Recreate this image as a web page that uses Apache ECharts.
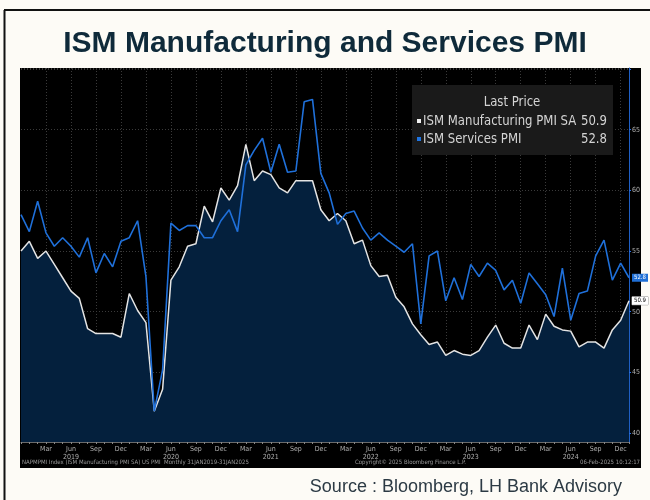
<!DOCTYPE html>
<html><head><meta charset="utf-8">
<script src="https://cdn.jsdelivr.net/npm/echarts/dist/echarts.min.js"></script>
<style>html,body{margin:0;padding:0;background:#fdfbf6}#c{width:650px;height:500px}</style>
</head><body><div id="c"></div><script>
// Monthly categories Dec 2018 .. Jan 2025
const categories = [
 '2018-12',
 '2019-01','2019-02','2019-03','2019-04','2019-05','2019-06','2019-07','2019-08','2019-09','2019-10','2019-11','2019-12',
 '2020-01','2020-02','2020-03','2020-04','2020-05','2020-06','2020-07','2020-08','2020-09','2020-10','2020-11','2020-12',
 '2021-01','2021-02','2021-03','2021-04','2021-05','2021-06','2021-07','2021-08','2021-09','2021-10','2021-11','2021-12',
 '2022-01','2022-02','2022-03','2022-04','2022-05','2022-06','2022-07','2022-08','2022-09','2022-10','2022-11','2022-12',
 '2023-01','2023-02','2023-03','2023-04','2023-05','2023-06','2023-07','2023-08','2023-09','2023-10','2023-11','2023-12',
 '2024-01','2024-02','2024-03','2024-04','2024-05','2024-06','2024-07','2024-08','2024-09','2024-10','2024-11','2024-12',
 '2025-01'
];
const manufacturing = [
 55.0,
 55.8,54.4,55.0,53.9,52.8,51.7,51.1,48.6,48.2,48.2,48.2,47.9,
 51.5,50.1,49.1,41.8,43.6,52.6,53.7,55.4,55.6,58.7,57.4,60.2,
 59.2,60.4,63.8,60.8,61.6,61.3,60.2,59.8,60.8,60.8,60.8,58.4,
 57.5,58.1,57.5,55.6,55.9,53.8,52.9,53.0,51.2,50.4,49.0,48.1,
 47.3,47.5,46.4,46.8,46.5,46.4,46.8,47.9,48.9,47.4,47.0,47.0,
 48.9,47.7,49.8,48.8,48.5,48.4,47.1,47.5,47.5,47.0,48.5,49.3,
 50.9
];
const services = [
 58.0,
 56.6,59.1,56.5,55.4,56.1,55.4,54.5,56.1,53.2,54.8,53.7,55.8,
 56.1,57.5,52.9,41.8,45.2,57.3,56.7,57.1,57.1,56.1,56.1,57.5,
 58.4,56.6,62.1,63.3,64.3,61.5,63.8,61.5,61.6,67.3,67.5,61.4,
 59.8,57.2,58.1,58.3,56.9,55.9,56.5,55.9,55.4,54.9,55.6,49.0,
 54.6,55.0,50.9,52.8,51.0,53.9,52.9,54.0,53.4,51.8,52.6,50.7,
 53.2,52.3,51.4,49.6,53.6,49.3,51.5,51.7,54.6,55.9,52.6,54.0,
 52.8
];
const monthNames = ['Jan','Feb','Mar','Apr','May','Jun','Jul','Aug','Sep','Oct','Nov','Dec'];
const tickMonths = ['Mar','Jun','Sep','Dec'];
const yearLabelMonth = 'Jun';
const yLabelMax = 65;
const seriesNames = ['ISM Manufacturing PMI SA','ISM Services PMI'];
const legendTitle = 'Last Price';
const titleText = 'ISM Manufacturing and Services PMI';
const sourceText = 'Source : Bloomberg, LH Bank Advisory';
const footLeft = 'NAPMPMI Index (ISM Manufacturing PMI SA) US PMI  Monthly 31JAN2019-31JAN2025';
const footMid = 'Copyright\u00a9 2025 Bloomberg Finance L.P.';
const footRight = '06-Feb-2025 10:12:17';

function monthOf(v){ return monthNames[parseInt(v.split('-')[1],10)-1]; }
function isTick(idx){ return idx>0 && tickMonths.indexOf(monthOf(categories[idx]))>=0; }

const narrow = "'Liberation Sans Narrow','DejaVu Sans Condensed','Arial Narrow','Liberation Sans',sans-serif";
const chart = echarts.init(document.getElementById('c'), null, {renderer:'canvas'});
const lastM = manufacturing[manufacturing.length-1].toFixed(1);
const lastS = services[services.length-1].toFixed(1);
const lf = '14px '+narrow, lc = '#d4d4d4', sx = 0.93;

chart.setOption({
  animation:false,
  backgroundColor:'transparent',
  title:{text:titleText,left:'center',top:24,
    textStyle:{fontFamily:"'Liberation Sans',Arial,sans-serif",fontSize:30,fontWeight:'bold',color:'#0f2a3a'}},
  grid:{left:21,right:21,top:68,bottom:58},
  graphic:[
    {type:'line',z:-5,shape:{x1:4.5,y1:10,x2:4.5,y2:500},style:{stroke:'#111',lineWidth:2}},
    {type:'line',z:-5,shape:{x1:4,y1:10,x2:650,y2:10},style:{stroke:'#111',lineWidth:2}},
    {type:'rect',z:-10,shape:{x:20,y:68,width:621,height:400},style:{fill:'#000'}},
    {type:'rect',z:50,shape:{x:412,y:85,width:201,height:70},style:{fill:'#1a1a1a'}},
    {type:'text',z:51,x:512,y:102,scaleX:sx,style:{text:legendTitle,align:'center',verticalAlign:'middle',fill:lc,font:lf}},
    {type:'rect',z:51,shape:{x:417,y:119,width:4,height:4},style:{fill:'#f0f0f0'}},
    {type:'text',z:51,x:423,y:121,scaleX:sx,style:{text:seriesNames[0],verticalAlign:'middle',fill:lc,font:lf}},
    {type:'text',z:51,x:607,y:121,scaleX:sx,style:{text:lastM,align:'right',verticalAlign:'middle',fill:lc,font:lf}},
    {type:'rect',z:51,shape:{x:417,y:137,width:4,height:4},style:{fill:'#1f74e0'}},
    {type:'text',z:51,x:423,y:139,scaleX:sx,style:{text:seriesNames[1],verticalAlign:'middle',fill:lc,font:lf}},
    {type:'text',z:51,x:607,y:139,scaleX:sx,style:{text:lastS,align:'right',verticalAlign:'middle',fill:lc,font:lf}},
    {type:'text',z:51,style:{x:22,y:462,text:footLeft,verticalAlign:'middle',fill:'#9a9a9a',font:'6px '+narrow}},
    {type:'text',z:51,style:{x:355,y:462,text:footMid,verticalAlign:'middle',fill:'#9a9a9a',font:'6px '+narrow}},
    {type:'text',z:51,style:{x:640,y:462,text:footRight,align:'right',verticalAlign:'middle',fill:'#9a9a9a',font:'6px '+narrow}},
    {type:'text',z:51,style:{x:622,y:487,text:sourceText,align:'right',verticalAlign:'middle',fill:'#2c3a44',font:"18px 'Liberation Sans',Arial,sans-serif"}}
  ],
  xAxis:{type:'category',data:categories,boundaryGap:false,
    axisLine:{show:true,lineStyle:{color:'#6a6a6a',width:1}},
    axisTick:{show:true,interval:0,length:2,lineStyle:{color:'#888'}},
    axisLabel:{interval:function(i){return isTick(i);},color:'#b0b0b0',fontSize:7,margin:3,lineHeight:8,
      fontFamily:narrow,
      formatter:function(v){const m=monthOf(v);return m===yearLabelMonth? m+'\n'+v.split('-')[0] : m;}},
    splitLine:{show:true,interval:function(i){return isTick(i);},lineStyle:{color:'#3a3a3a',type:[1,2],width:1}}
  },
  yAxis:{type:'value',position:'right',min:39.26,max:70.09,splitNumber:6,
    axisLine:{show:true,lineStyle:{color:'#1f5fc4',width:1}},
    axisTick:{show:true,length:2,lineStyle:{color:'#2a6fe0'}},
    axisLabel:{color:'#b0b0b0',fontSize:7,margin:3,showMinLabel:false,showMaxLabel:false,fontFamily:narrow,
      formatter:function(v){return v>yLabelMax? '' : String(v);}},
    splitLine:{show:true,lineStyle:{color:'#3a3a3a',type:[1,2],width:1}}
  },
  series:[
    {name:seriesNames[0],type:'line',data:manufacturing,symbol:'none',clip:true,z:3,
     lineStyle:{color:'#e4e4e4',width:1.5},itemStyle:{color:'#e4e4e4'},
     areaStyle:{color:'#04203d',opacity:1,origin:'start'},
     endLabel:{show:true,formatter:function(p){return p.value.toFixed(1);},backgroundColor:'#ffffff',color:'#000',
       fontSize:6,padding:[1,2],distance:3,borderColor:'#999',borderWidth:0.5,fontFamily:narrow}},
    {name:seriesNames[1],type:'line',data:services,symbol:'none',clip:true,z:4,
     lineStyle:{color:'#1f70da',width:1.6},itemStyle:{color:'#1f70da'},
     endLabel:{show:true,formatter:function(p){return p.value.toFixed(1);},backgroundColor:'#1f6fd6',color:'#fff',
       fontSize:6,padding:[1,2],distance:3,fontFamily:narrow}}
  ]
});
</script></body></html>
